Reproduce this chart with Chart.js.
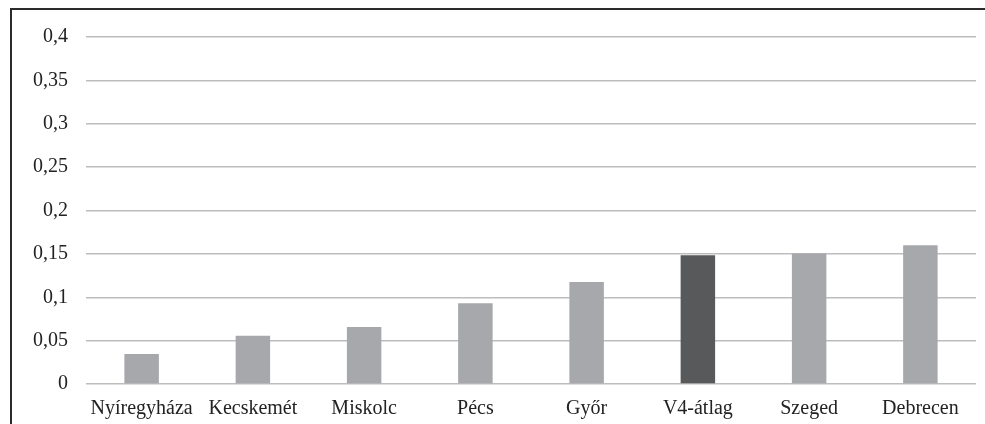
<!DOCTYPE html>
<html>
<head>
<meta charset="utf-8">
<script src="https://cdn.jsdelivr.net/npm/chart.js@4/dist/chart.umd.min.js"></script>
<style>
  html, body { margin: 0; padding: 0; background: #fff; }
  #wrap { position: relative; width: 985px; height: 424px; }
  #frame { position: absolute; left: 10px; top: 8px; right: 0; bottom: 0;
           border-top: 2px solid #2b2b2b; border-left: 2px solid #2b2b2b; pointer-events: none; }
  canvas { position: absolute; left: 0; top: 0; }
</style>
</head>
<body>
<div id="wrap">
  <canvas id="chart" width="985" height="424"></canvas>
  <div id="frame"></div>
</div>
<script>
// Categories and values
const cities = ['Nyíregyháza', 'Kecskemét', 'Miskolc', 'Pécs', 'Győr', 'V4-átlag', 'Szeged', 'Debrecen'];
const values = [0.0345, 0.0557, 0.0657, 0.093, 0.1176, 0.1485, 0.1505, 0.160];
const barColors = ['#a7a8ab', '#a7a8ab', '#a7a8ab', '#a7a8ab', '#a7a8ab', '#58595b', '#a7a8ab', '#a7a8ab'];

const serif = '"Liberation Serif", "DejaVu Serif", serif';

new Chart(document.getElementById('chart'), {
    type: 'bar',
    data: {
        labels: cities,
        datasets: [{
            data: values,
            backgroundColor: barColors,
            borderWidth: 0,
            categoryPercentage: 1,
            barPercentage: 0.31
        }]
    },
    options: {
        responsive: false,
        animation: false,
        layout: { padding: { left: 0, right: 9, top: 37, bottom: 0 } },
        plugins: { legend: { display: false }, tooltip: { enabled: false } },
        scales: {
            x: {
                grid: { display: false, drawTicks: false },
                border: { display: false },
                ticks: { color: '#222', font: { family: serif, size: 20 }, padding: 13, maxRotation: 0 },
                afterFit: s => { s.height = 40; }
            },
            y: {
                min: 0,
                max: 0.4,
                grid: { color: '#bdbdbd', lineWidth: 1.5, drawTicks: false },
                border: { display: false },
                ticks: {
                    stepSize: 0.05,
                    color: '#222',
                    font: { family: serif, size: 20 },
                    padding: 18,
                    callback: v => String(Math.round(v * 100) / 100).replace('.', ',')
                },
                afterFit: s => { s.width = 86; }
            }
        }
    }
});
</script>
</body>
</html>
